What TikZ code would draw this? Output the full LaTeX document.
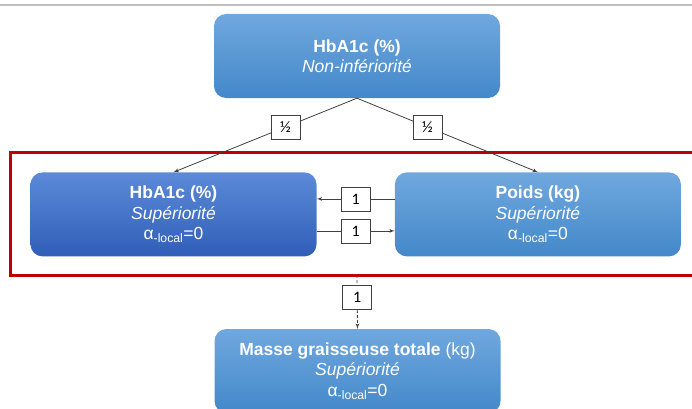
\documentclass[tikz,border=0pt]{standalone}
\usepackage{fontspec}
\setmainfont{Liberation Sans}
\newfontfamily\labelfont{Carlito}
\usepackage{xcolor}
\usetikzlibrary{arrows, positioning}

\definecolor{boxtop}{HTML}{70A8DE}
\definecolor{boxbottom}{HTML}{4388CA}
\definecolor{deeptop}{HTML}{5C8AD8}
\definecolor{deepbottom}{HTML}{305EB8}
\definecolor{linegray}{HTML}{404040}
\definecolor{framered}{HTML}{C00000}
\definecolor{rulegray}{HTML}{BFBFBF}

\begin{document}
\begin{tikzpicture}[x=1pt, y=1pt, node distance=74pt]
\tikzstyle{endpoint} = [rectangle, rounded corners=12pt, top color=boxtop, bottom color=boxbottom, text=white, minimum width=286pt, minimum height=84pt, align=center, font=\fontsize{17.5}{20.5}\selectfont]
\tikzstyle{primary} = [top color=deeptop, bottom color=deepbottom]
\tikzstyle{weight} = [rectangle, draw=linegray, solid, fill=white, minimum width=29pt, minimum height=24pt, inner sep=0pt, font=\labelfont\fontsize{16}{16}\selectfont]
\tikzstyle{line} = [draw=linegray, line width=0.8pt, -latex']

\useasboundingbox (0,0) rectangle (692,408);
\draw [rulegray, line width=2pt] (0,403) -- (692,403);

% focus frame around the two superiority tests
\draw [framered, line width=3pt] (10,133) rectangle (710,256);
\coordinate (framebottom) at (357,133);

\node [endpoint] (noninf) at (357,352) {\textbf{HbA1c (\%)}\\\textit{Non-infériorité}};
\node [endpoint, primary, below=74pt of noninf, xshift=-183.5pt] (hbasup) {\textbf{HbA1c (\%)}\\\textit{Supériorité}\\α\textsubscript{-local}=0};
\node [endpoint, right=78pt of hbasup] (poids) {\textbf{Poids (kg)}\\\textit{Supériorité}\\α\textsubscript{-local}=0};
\node [endpoint] (masse) at (357.5,37) {\textbf{Masse graisseuse totale} (kg)\\\textit{Supériorité}\\α\textsubscript{-local}=0};

\path [line] (noninf.south) -- node [weight, pos=0.39] {½} (hbasup.north);
\path [line] (noninf.south) -- node [weight, pos=0.39] {½} (poids.north);
\path [line] ([yshift=15.5pt]poids.west) -- node [weight] {1} ([yshift=15.5pt]hbasup.east);
\path [line] ([yshift=-16.5pt]hbasup.east) -- node [weight] {1} ([yshift=-16.5pt]poids.west);
\path [line, dash pattern=on 3pt off 2pt] (framebottom) -- node [weight, pos=0.41] {1} (masse.north);

\end{tikzpicture}
\end{document}
